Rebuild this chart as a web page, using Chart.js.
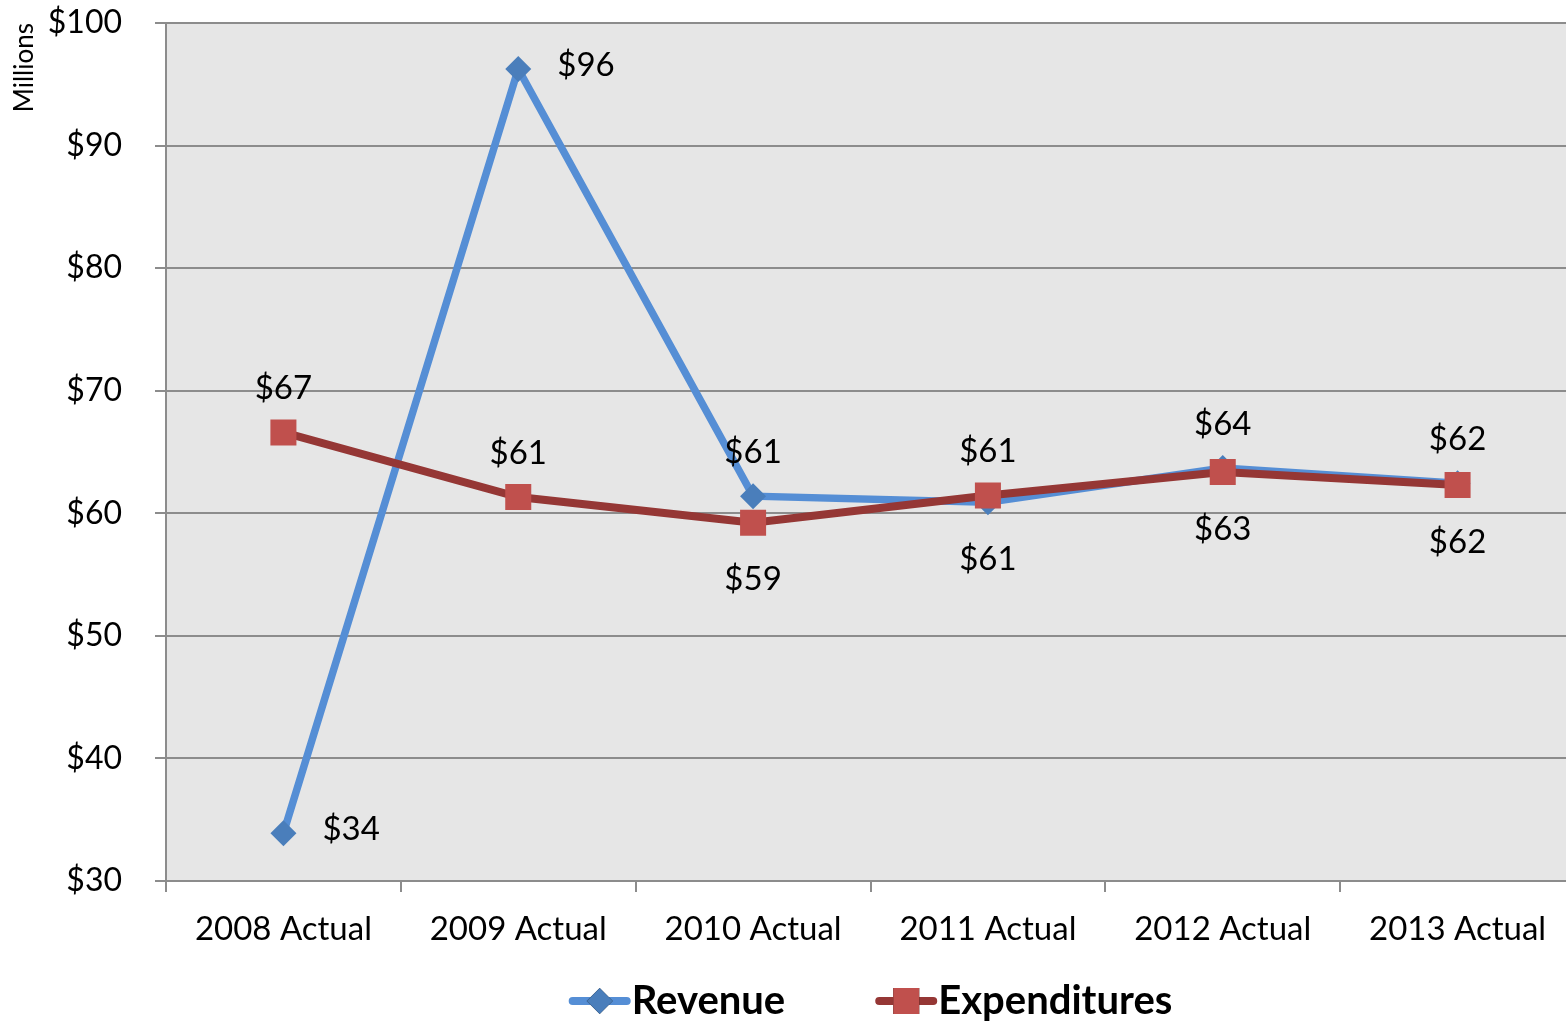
<!DOCTYPE html>
<html>
<head>
<meta charset="utf-8">
<script src="https://cdn.jsdelivr.net/npm/chart.js@4.4.1/dist/chart.umd.min.js"></script>
<style>
  html, body { margin: 0; padding: 0; background: #ffffff; overflow: hidden; }
  #wrap { width: 1576px; height: 1021px; }
</style>
</head>
<body>
<div id="wrap"><canvas id="c" width="1576" height="1021"></canvas></div>
<script>
// ---- data ----
const categories = ['2008 Actual', '2009 Actual', '2010 Actual', '2011 Actual', '2012 Actual', '2013 Actual'];
const revenue = [33.9, 96.25, 61.4, 60.9, 63.7, 62.45];
const expenditures = [66.6, 61.33, 59.23, 61.45, 63.37, 62.31];
const seriesNames = ['Revenue', 'Expenditures'];
const yMin = 30, yMax = 100, yStep = 10;

// ---- label placement (style) ----
const revenueLabelPos = ['right', 'right', 'top', 'bottom', 'top', 'top'];
const expendLabelPos = ['top', 'top', 'bottom', 'top', 'bottom', 'bottom'];

const FONT = 'Lato, "Open Sans", sans-serif';

const plotBg = {
  id: 'plotBg',
  beforeDraw(chart) {
    const {ctx, chartArea: a} = chart;
    ctx.save();
    ctx.fillStyle = '#E6E6E6';
    ctx.fillRect(a.left, a.top, a.right - a.left, a.bottom - a.top);
    ctx.restore();
  }
};

const valueLabels = {
  id: 'valueLabels',
  afterDatasetsDraw(chart) {
    const ctx = chart.ctx;
    ctx.save();
    ctx.font = '33px ' + FONT;
    ctx.fillStyle = '#000';
    ctx.textBaseline = 'middle';
    chart.data.datasets.forEach((ds, di) => {
      const meta = chart.getDatasetMeta(di);
      const pos = ds.labelPos || [];
      meta.data.forEach((pt, i) => {
        const txt = '$' + Math.round(ds.data[i]);
        const p = pos[i] || 'top';
        let x = pt.x, y = pt.y;
        if (p === 'right') { ctx.textAlign = 'left'; x += 39; y -= 4; }
        else if (p === 'top') { ctx.textAlign = 'center'; y -= 44; }
        else { ctx.textAlign = 'center'; y += 57; }
        ctx.fillText(txt, x, y);
      });
    });
    ctx.restore();
  }
};

const customLegend = {
  id: 'customLegend',
  afterDraw(chart) {
    const ctx = chart.ctx;
    const a = chart.chartArea;
    const y = 1001;
    const iconW = 62, gapText = 1, gapItem = 90;
    ctx.save();
    ctx.font = 'bold 40px ' + FONT;
    const items = chart.data.datasets.map(ds => ({ds, w: ctx.measureText(ds.label).width}));
    let total = 0;
    items.forEach((it, i) => { total += iconW + gapText + it.w + (i ? gapItem : 0); });
    let x = (a.left + a.right) / 2 - total / 2;
    items.forEach((it, i) => {
      if (i) x += gapItem;
      const ds = it.ds;
      ctx.strokeStyle = ds.borderColor;
      ctx.lineWidth = 8;
      ctx.lineCap = 'round';
      ctx.beginPath();
      ctx.moveTo(x + 4, y);
      ctx.lineTo(x + iconW - 4, y);
      ctx.stroke();
      Chart.helpers.drawPoint(ctx, {
        pointStyle: ds.pointStyle,
        radius: ds.pointRadius,
        borderWidth: 0,
        rotation: 0
      }, x + iconW / 2, y);
      ctx.fillStyle = ds.pointBackgroundColor;
      ctx.fill();
      x += iconW + gapText;
      ctx.fillStyle = '#000';
      ctx.textAlign = 'left';
      ctx.textBaseline = 'middle';
      ctx.fillText(ds.label, x, y);
      x += it.w;
    });
    ctx.restore();
  }
};

new Chart(document.getElementById('c'), {
  type: 'line',
  data: {
    labels: categories,
    datasets: [
      {
        label: seriesNames[0],
        data: revenue,
        borderColor: '#558ED5',
        borderWidth: 7.5,
        pointStyle: 'rectRot',
        pointRadius: 13,
        pointBackgroundColor: '#4A7EBB',
        pointBorderColor: '#4A7EBB',
        pointBorderWidth: 0,
        tension: 0,
        order: 1,
        labelPos: revenueLabelPos
      },
      {
        label: seriesNames[1],
        data: expenditures,
        borderColor: '#953735',
        borderWidth: 8,
        pointStyle: 'rect',
        pointRadius: 18.4,
        pointBackgroundColor: '#C0504D',
        pointBorderColor: '#C0504D',
        pointBorderWidth: 0,
        tension: 0,
        order: 0,
        labelPos: expendLabelPos
      }
    ]
  },
  options: {
    responsive: false,
    animation: false,
    layout: { autoPadding: false, padding: { top: 23, right: 1, bottom: 0, left: 0 } },
    plugins: {
      legend: { display: false },
      tooltip: { enabled: false }
    },
    scales: {
      x: {
        offset: true,
        grid: {
          offset: true,
          drawOnChartArea: false,
          drawTicks: true,
          tickLength: 11,
          color: '#8C8C8C',
          lineWidth: 2
        },
        border: { display: true, color: '#8C8C8C', width: 2 },
        ticks: {
          color: '#000',
          font: { family: FONT, size: 33 },
          padding: 18,
          maxRotation: 0,
          autoSkip: false
        },
        afterFit(scale) {
          scale.height = 140;
          scale.paddingLeft = 0;
          scale.paddingRight = 0;
        }
      },
      y: {
        min: yMin,
        max: yMax,
        grid: {
          color: '#8C8C8C',
          lineWidth: 2,
          drawTicks: true,
          tickLength: 11
        },
        border: { display: true, color: '#8C8C8C', width: 2 },
        ticks: {
          stepSize: yStep,
          color: '#000',
          font: { family: FONT, size: 32 },
          padding: 33,
          callback: v => '$' + v
        },
        title: {
          display: true,
          text: 'Millions',
          align: 'end',
          color: '#000',
          font: { family: FONT, size: 26 },
          padding: { top: 9, bottom: 0 }
        },
        afterFit(scale) {
          scale.width = 166;
          scale.paddingTop = 0;
          scale.paddingBottom = 0;
        }
      }
    }
  },
  plugins: [plotBg, valueLabels, customLegend]
});
</script>
</body>
</html>
